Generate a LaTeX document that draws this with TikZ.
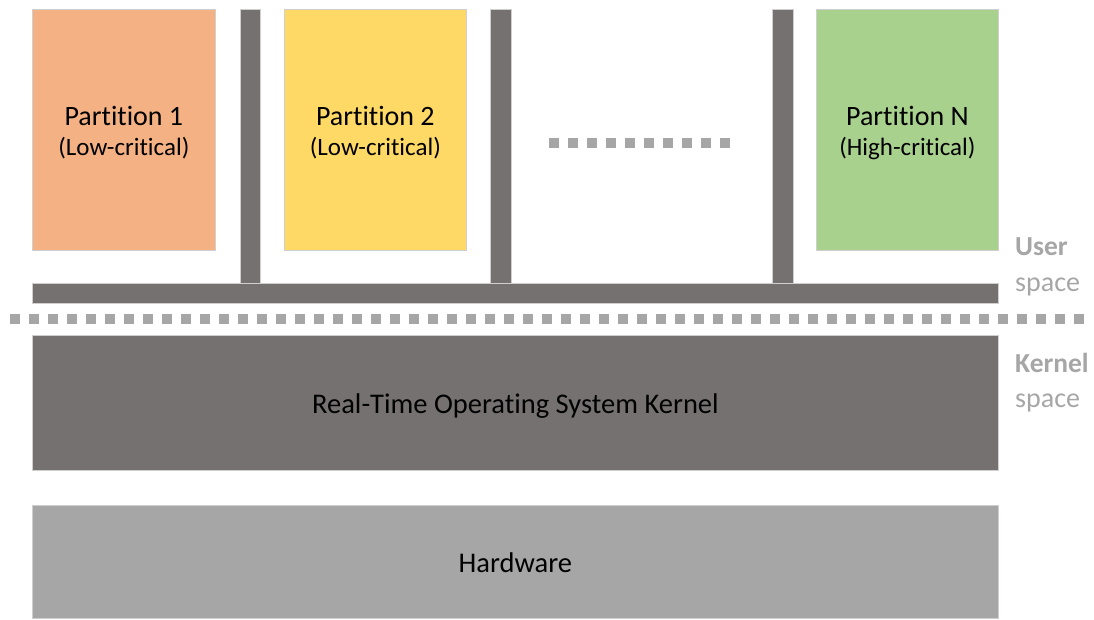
\documentclass[tikz,border=0pt]{standalone}
\usepackage{fontspec}
\setmainfont{Carlito}[Ligatures=NoCommon]
\definecolor{porange}{HTML}{F4B183}
\definecolor{pyellow}{HTML}{FFD966}
\definecolor{pgreen}{HTML}{A9D18E}
\definecolor{darkbar}{HTML}{767171}
\definecolor{lightbar}{HTML}{A6A6A6}
\definecolor{edgegray}{HTML}{D0CECE}
\definecolor{labgray}{HTML}{A6A6A6}
\begin{document}
\begin{tikzpicture}[x=1pt,y=-1pt,
  box/.style={rectangle, draw=edgegray, line width=0.8pt, inner sep=0pt, anchor=north west},
  ttl/.style={inner sep=0pt, font=\fontsize{28}{32}\selectfont},
  sub/.style={inner sep=0pt, font=\fontsize{25}{30}\selectfont},
  big/.style={inner sep=0pt, font=\fontsize{28.5}{32}\selectfont},
  bar/.style={box, fill=darkbar},
  dots/.style={draw=lightbar, line width=10pt, dash pattern=on 10pt off 9pt},
  side/.style={text=labgray, anchor=west, font=\fontsize{28}{32}\selectfont, inner sep=0pt},
  sideb/.style={side, font=\fontsize{27.5}{32}\selectfont\bfseries}
]
\useasboundingbox (0,0) rectangle (1094,619);
% partitions
\node[box, fill=porange, minimum width=183pt, minimum height=241pt] (p1) at (32,9) {};
\node[box, fill=pyellow, minimum width=182pt, minimum height=241pt] (p2) at (284,9) {};
\node[box, fill=pgreen, minimum width=182pt, minimum height=241pt] (pn) at (816,9) {};
\node[ttl] (p1t) at (p1.center |- 0,116) {Partition 1};
\node[sub] (p1s) at (p1.center |- 0,148) {(Low-critical)};
\node[ttl] (p2t) at (p2.center |- 0,116) {Partition 2};
\node[sub] (p2s) at (p2.center |- 0,148) {(Low-critical)};
\node[ttl] (pnt) at (pn.center |- 0,116) {Partition N};
\node[sub] (pns) at (pn.center |- 0,148) {(High-critical)};
% vertical bars
\node[bar, minimum width=20pt, minimum height=274pt] (v1) at (240,9) {};
\node[bar, minimum width=21pt, minimum height=274pt] (v2) at (490,9) {};
\node[bar, minimum width=21pt, minimum height=274pt] (v3) at (772,9) {};
% horizontal bus
\node[bar, minimum width=966pt, minimum height=20pt] (bus) at (32,283) {};
% ellipsis dots
\coordinate (d1) at (549,143);
\coordinate (d2) at (730,143);
\draw[dots] (d1) -- (d2);
% separator
\coordinate (s1) at (10,319);
\coordinate (s2) at (1085,319);
\draw[dots] (s1) -- (s2);
% kernel
\node[box, fill=darkbar, minimum width=966pt, minimum height=135pt] (kern) at (32,335) {};
\node[big] (kt) at (kern.center |- 0,406) {Real-Time Operating System Kernel};
% hardware
\node[box, fill=lightbar, minimum width=966pt, minimum height=113pt] (hw) at (32,505) {};
\node[big] (ht) at (hw.center |- 0,563) {Hardware};
% side labels
\node[sideb] (u1) at (1015,247) {User};
\node[side] (u2) at (1015,287) {space};
\node[sideb] (k1) at (1015,363) {Kernel};
\node[side] (k2) at (1015,403) {space};
\end{tikzpicture}
\end{document}
